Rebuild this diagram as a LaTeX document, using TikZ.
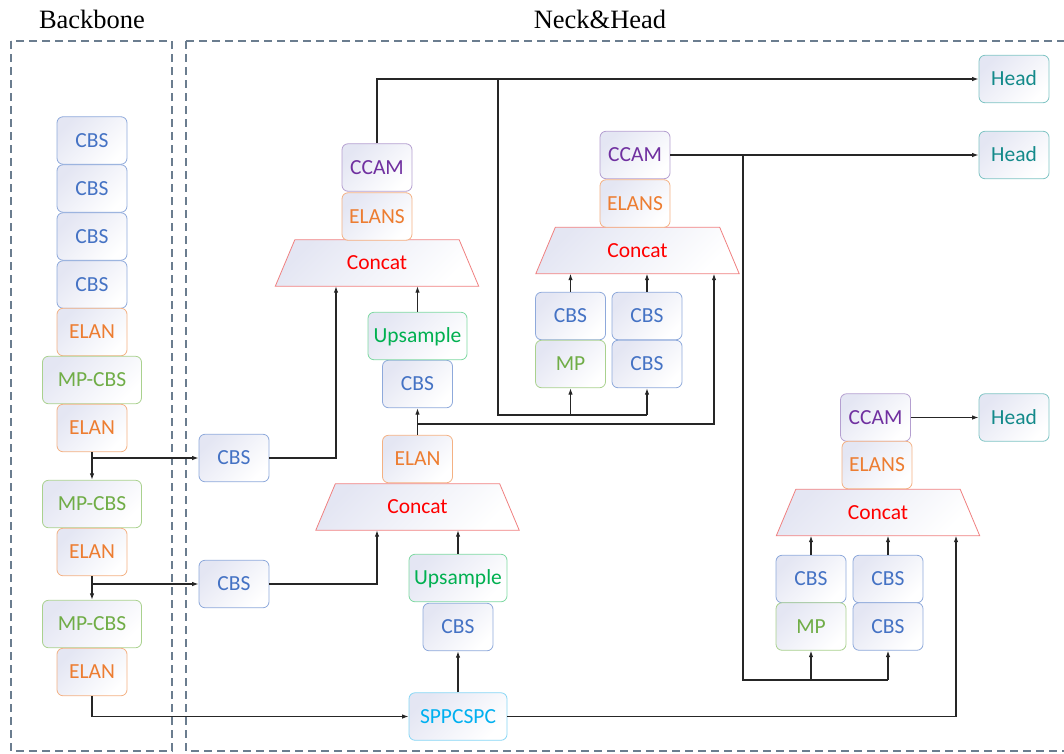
\documentclass[tikz,border=0pt]{standalone}
\usepackage{fontspec}
\usetikzlibrary{arrows.meta,calc,backgrounds}
\newfontfamily\boxfont{Carlito}
\newfontfamily\titlefont{Liberation Serif}

\definecolor{cbsT}{HTML}{4472C4}\definecolor{cbsB}{HTML}{8EA9DB}
\definecolor{elanT}{HTML}{ED7D31}\definecolor{elanB}{HTML}{F4B183}
\definecolor{mpT}{HTML}{70AD47}\definecolor{mpB}{HTML}{A9D18E}
\definecolor{ccamT}{HTML}{7030A0}\definecolor{ccamB}{HTML}{B49FD0}
\definecolor{upT}{HTML}{00B050}\definecolor{upB}{HTML}{7ED9A2}
\definecolor{sppT}{HTML}{00B0F0}\definecolor{sppB}{HTML}{86D6F5}
\definecolor{headT}{HTML}{138A8A}\definecolor{headB}{HTML}{7FC4C4}
\definecolor{catT}{HTML}{FF0000}\definecolor{catB}{HTML}{F08080}
\definecolor{shadeC}{HTML}{E4E6F3}
\definecolor{frameC}{HTML}{6B7D8F}

\tikzset{
  lbl/.style={font=\boxfont\fontsize{21.5}{25}\selectfont, text height=13.85pt, text depth=0pt},
  blk/.style={rectangle, rounded corners=6pt, draw, line width=0.8pt,
    minimum height=47.5pt, minimum width=70pt, inner sep=0pt,
    top color=shadeC, bottom color=white, shading angle=45, lbl},
  cbs/.style={blk, draw=cbsB, text=cbsT},
  elan/.style={blk, draw=elanB, text=elanT},
  mpcbs/.style={blk, draw=mpB, text=mpT},
  ccam/.style={blk, draw=ccamB, text=ccamT},
  ups/.style={blk, draw=upB, text=upT, minimum width=98pt},
  spp/.style={blk, draw=sppB, text=sppT, minimum width=98pt},
  headbox/.style={blk, draw=headB, text=headT},
  % the concat label box; its trapezoid outline is drawn behind it
  concat/.style={rectangle, minimum width=203pt, minimum height=46pt, inner sep=0pt,
    text=catT, lbl},
  catshape/.style={draw=catB, line width=0.8pt, top color=shadeC, bottom color=white,
    shading angle=45},
  frame/.style={draw=frameC, line width=1.4pt, dash pattern=on 8pt off 5pt},
  ttl/.style={font=\titlefont\fontsize{26.5}{30}\selectfont},
  arr/.style={draw=black!85, line width=1.1pt, -{Latex[length=6.5pt,width=4.5pt]}},
  ln/.style={draw=black!85, line width=1.1pt},
}
% trapezoid behind a concat node: full width at the bottom, inset at the top
\newcommand\trapzfor[1]{%
  \begin{scope}[on background layer]
    \path[catshape] (#1.south west) -- (#1.south east)
      -- ([xshift=-19.5pt]#1.north east) -- ([xshift=19.5pt]#1.north west) -- cycle;
  \end{scope}}

\begin{document}
\begin{tikzpicture}[x=1pt,y=-1pt]
\useasboundingbox (0,0) rectangle (1064,753);

% dashed group frames and their titles
\draw[frame] (11,41) rectangle (172,751);
\draw[frame] (186,41) -- (186,751) -- (1075,751);
\draw[frame] (186,41) -- (1075,41);
\node[ttl] (tBack) at (92,19) {Backbone};
\node[ttl] (tNeck) at (600,19) {Neck\&Head};

% backbone column
\node[cbs] (b1) at (92,140.5) {CBS};
\node[cbs] (b2) at (92,188.5) {CBS};
\node[cbs] (b3) at (92,236.5) {CBS};
\node[cbs] (b4) at (92,284.5) {CBS};
\node[elan] (be1) at (92,332) {ELAN};
\node[mpcbs, minimum width=99pt] (bm1) at (92,380) {MP-CBS};
\node[elan] (be2) at (92,428) {ELAN};
\node[mpcbs, minimum width=99pt] (bm2) at (92,504) {MP-CBS};
\node[elan] (be3) at (92,552) {ELAN};
\node[mpcbs, minimum width=99pt] (bm3) at (92,624) {MP-CBS};
\node[elan] (be4) at (92,672) {ELAN};

% neck: lateral CBS
\node[cbs] (n1) at (234,458) {CBS};
\node[cbs] (n2) at (234,584) {CBS};

% neck: lower path
\node[spp] (spp) at (458,716.5) {SPPCSPC};
\node[cbs] (cA) at (458,627) {CBS};
\node[ups] (uA) at (458,578) {Upsample};
\node[concat] (catA) at (417.5,507) {Concat};
\trapzfor{catA}
\node[elan] (eA) at (417.5,459) {ELAN};
\node[cbs] (cB) at (417.5,384) {CBS};
\node[ups, minimum width=99pt] (uB) at (417.5,336) {Upsample};
\node[concat] (catB) at (377,263) {Concat};
\trapzfor{catB}
\node[elan] (esB) at (377,216.5) {ELANS};
\node[ccam] (ccB) at (377,167.5) {CCAM};

% neck: middle head branch
\node[ccam] (ccC) at (635,155) {CCAM};
\node[elan] (esC) at (635,203.5) {ELANS};
\node[concat] (catC) at (637.5,250.5) {Concat};
\trapzfor{catC}
\node[cbs] (cC1) at (570.5,316) {CBS};
\node[mpcbs] (mC) at (570.5,364) {MP};
\node[cbs] (cC2) at (647,316) {CBS};
\node[cbs] (cC3) at (647,364) {CBS};

% neck: lower head branch
\node[ccam] (ccD) at (875.5,417.5) {CCAM};
\node[elan] (esD) at (877,465) {ELANS};
\node[concat] (catD) at (878,512.5) {Concat};
\trapzfor{catD}
\node[cbs] (cD1) at (811,579) {CBS};
\node[mpcbs] (mD) at (811,626.5) {MP};
\node[cbs] (cD2) at (888,579) {CBS};
\node[cbs] (cD3) at (888,626.5) {CBS};

% heads
\node[headbox] (h1) at (1014,79) {Head};
\node[headbox] (h2) at (1014,155) {Head};
\node[headbox] (h3) at (1014,417.5) {Head};

% junction points
\coordinate (jT) at (498,79);
\coordinate (jTb) at (498,415);
\coordinate (jE) at (417.5,424);
\coordinate (jR) at (743,155);
\coordinate (jRb) at (743,680);

% backbone connectors
\draw[arr] (be2.south) -- (bm2.north);
\draw[arr] (be2.south |- n1.west) -- (n1.west);
\draw[arr] (be3.south) -- (bm3.north);
\draw[arr] (be3.south |- n2.west) -- (n2.west);
\draw[arr] (be4.south) |- (spp.west);

% neck connectors
\draw[arr] (n1.east) -| ([xshift=-41pt]catB.south);
\draw[arr] (n2.east) -| ([xshift=-40.5pt]catA.south);
\draw[arr] (spp.north) -- (cA.south);
\draw[arr] (uA.north) -- (uA.north |- catA.south);
\draw[arr] (eA.north) -- (cB.south);
\draw[arr] (uB.north) -- (uB.north |- catB.south);
\draw[arr] (jE) -| ([xshift=76.5pt]catC.south);
\draw[arr] (ccB.north) |- (h1.west);
\draw[ln] (jT) -- (jTb) -- (jTb -| cC3.south);
\draw[arr] (jTb -| mC.south) -- (mC.south);
\draw[arr] (jTb -| cC3.south) -- (cC3.south);
\draw[arr] (cC1.north) -- (cC1.north |- catC.south);
\draw[arr] (cC2.north) -- (cC2.north |- catC.south);
\draw[arr] (ccC.east) -- (h2.west);
\draw[ln] (jR) -- (jRb) -- (jRb -| cD3.south);
\draw[arr] (jRb -| mD.south) -- (mD.south);
\draw[arr] (jRb -| cD3.south) -- (cD3.south);
\draw[arr] (cD1.north) -- (cD1.north |- catD.south);
\draw[arr] (cD2.north) -- (cD2.north |- catD.south);
\draw[arr] (spp.east) -| ([xshift=78pt]catD.south);
\draw[arr] (ccD.east) -- (h3.west);
\end{tikzpicture}
\end{document}
